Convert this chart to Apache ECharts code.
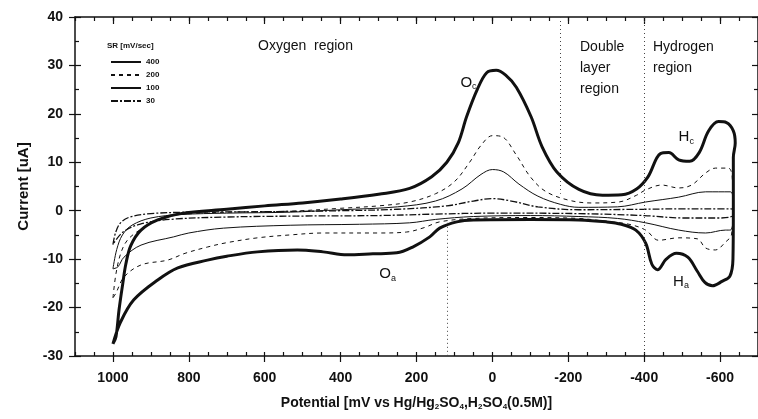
<!DOCTYPE html>
<html>
<head>
<meta charset="utf-8">
<script src="https://cdn.jsdelivr.net/npm/echarts@6/dist/echarts.min.js"></script>
<style>
  html, body { margin: 0; padding: 0; background: #fff; }
  #chart { width: 758px; height: 419px; }
</style>
</head>
<body>
<div id="chart"></div>
<script>
// scan rates [mV/sec] and one closed loop per rate: [potential mV, current uA]
const scanRates = ['400', '200', '100', '30'];

const sr400 = [
  [1000, -27.5], [992, -26], [984, -20.5], [974, -15], [966, -11], [953, -7.2], [926, -4],
  [882, -1.9], [822, -0.6], [700, 0.3], [600, 1.0], [500, 1.6], [400, 2.4], [300, 3.4],
  [218, 4.6], [160, 7], [120, 10], [90, 14], [68, 19.4], [40, 25], [15, 28.5], [-10, 29],
  [-35, 28], [-63, 25.5], [-102, 19.4], [-131, 13.2], [-170, 8], [-228, 4.4], [-290, 3.2],
  [-341, 3.3], [-380, 4.5], [-410, 7], [-443, 11.8], [-465, 12], [-491, 10.5], [-520, 10.2],
  [-545, 12], [-570, 16.5], [-596, 18.4], [-617, 18.2], [-635, 16.5], [-640, 14],
  [-635, 11], [-635, 0], [-634, -10], [-626, -13.5], [-605, -14.6], [-580, -15.5],
  [-560, -14.8], [-540, -12.5], [-515, -9.6], [-485, -8.8], [-458, -10], [-435, -12.2],
  [-420, -11], [-404, -6.7], [-378, -4], [-340, -2.8], [-300, -2.3], [-228, -1.9],
  [-100, -1.8], [50, -1.9], [94, -2.3], [139, -3.6], [165, -5.4], [210, -7.5], [252, -8.7],
  [315, -8.9], [383, -9.1], [446, -8.5], [514, -8.1], [619, -8.5], [700, -9.4], [751, -10.2],
  [829, -11.8], [882, -14.3], [945, -18.4], [980, -23], [1000, -27.5]
];

const sr200 = [
  [1000, -18], [992, -13], [979, -8.7], [961, -6], [926, -3.8], [880, -1.8], [822, -0.8],
  [700, -0.3], [533, -0.1], [400, 0.5], [300, 1.0], [218, 1.8], [150, 3.5], [100, 6],
  [60, 10], [30, 13.5], [0, 15.5], [-25, 15.3], [-63, 11.5], [-100, 7], [-140, 4],
  [-200, 2.2], [-260, 1.6], [-333, 1.8], [-380, 3.2], [-404, 4.3], [-446, 5.3], [-491, 4.7],
  [-525, 5.3], [-562, 7.8], [-588, 8.8], [-622, 8.8], [-632, 7], [-634, 0], [-630, -5],
  [-614, -6.5], [-588, -8.1], [-562, -7.7], [-540, -5.8], [-491, -5.6], [-438, -6.1],
  [-404, -4], [-360, -2.8], [-300, -2.2], [-228, -1.6], [-100, -1.4], [50, -1.6],
  [139, -2.3], [180, -3.5], [226, -4.4], [300, -4.6], [446, -4.6], [533, -5], [619, -5.6],
  [700, -6.6], [751, -7.5], [810, -8.8], [856, -10.2], [926, -11.2], [971, -13.7],
  [992, -17], [1000, -18]
];

const sr100 = [
  [1000, -12], [990, -8], [975, -5], [950, -3], [900, -1.5], [822, -0.8], [700, -0.5],
  [533, -0.3], [400, 0.2], [250, 0.8], [150, 2], [80, 4.5], [30, 7.5], [0, 8.5], [-30, 8],
  [-70, 5.5], [-120, 3], [-180, 1.3], [-228, 0.7], [-330, 0.8], [-404, 1.8], [-491, 2.8],
  [-562, 3.9], [-627, 3.9], [-634, 2], [-634, -2], [-627, -4], [-614, -4], [-562, -4.6],
  [-491, -4], [-404, -2.5], [-330, -1.6], [-228, -1.2], [-100, -1.0], [50, -1.2],
  [150, -1.8], [218, -2.5], [350, -2.8], [533, -3], [709, -3.6], [800, -4.6], [840, -5.4],
  [926, -7.1], [971, -9.6], [987, -11.6], [1000, -12]
];

const sr30 = [
  [1000, -7], [993, -4.5], [980, -2.5], [955, -1.3], [900, -0.6], [800, -0.3], [600, -0.2],
  [400, 0], [250, 0.3], [120, 1], [50, 2], [0, 2.5], [-50, 2], [-120, 0.8], [-228, 0.2],
  [-400, 0.3], [-500, 0.4], [-600, 0.4], [-630, 0.4], [-634, 0], [-630, -1.2],
  [-600, -1.5], [-500, -1.5], [-400, -1], [-228, -0.6], [0, -0.5], [150, -0.7],
  [300, -1.0], [500, -1.1], [700, -1.3], [850, -1.8], [930, -2.8], [975, -4.5], [1000, -7]
];

const potentialLabels = [1000, 800, 600, 400, 200, 0, -200, -400, -600];

// dotted region dividers: [potential, from current, to current]
const dividers = [[120, -2.5, -30], [-180, 40, 3.5], [-400, 40, -30]];

// peak names: [letter, subscript, potential, current]
const peakLabels = [['O', 'c', 63, 26.5], ['O', 'a', 276, -13.1], ['H', 'c', -511, 15.2], ['H', 'a', -497, -14.7]];

const chart = echarts.init(document.getElementById('chart'));
const font = 'Liberation Sans, Arial, sans-serif';
const ink = '#111';

const styles = {
  '400': { width: 3, type: 'solid' },
  '200': { width: 1, type: [4, 4] },
  '100': { width: 1, type: 'solid' },
  '30': { width: 1.3, type: [7, 2, 2, 2] }
};
const loops = { '400': sr400, '200': sr200, '100': sr100, '30': sr30 };

const baseX = { type: 'value', inverse: true, min: -700, max: 1100, interval: 50, splitLine: { show: false } };
const baseY = { type: 'value', min: -30, max: 40, interval: 10, splitLine: { show: false } };
const tickLine = { color: ink, width: 1.2 };
const hiddenLine = { show: false, onZero: false };
const shownLine = { show: true, onZero: false, lineStyle: { color: ink, width: 1.5 } };

const series = scanRates.map(sr => ({
  name: sr,
  type: 'line',
  data: loops[sr],
  symbol: 'none',
  smooth: 0.35,
  xAxisIndex: 0,
  yAxisIndex: 0,
  lineStyle: { color: ink, width: styles[sr].width, type: styles[sr].type },
  itemStyle: { color: ink }
}));

series[0].markLine = {
  silent: true,
  symbol: 'none',
  label: { show: false },
  lineStyle: { color: '#444', width: 1, type: [1, 3] },
  data: dividers.map(d => [{ coord: [d[0], d[1]] }, { coord: [d[0], d[2]] }])
};
series[0].markPoint = {
  silent: true,
  symbol: 'circle',
  symbolSize: 0,
  data: peakLabels.map(p => ({
    coord: [p[2], p[3]],
    label: {
      show: true,
      position: 'inside',
      formatter: '{m|' + p[0] + '}{s|' + p[1] + '}',
      rich: {
        m: { fontSize: 15, fontFamily: font, color: ink },
        s: { fontSize: 9, fontFamily: font, color: ink, padding: [8, 0, 0, 0] }
      }
    }
  }))
};

const option = {
  animation: false,
  backgroundColor: '#fff',
  grid: { left: 75, top: 17, width: 684, height: 339 },
  legend: {
    data: scanRates,
    orient: 'vertical',
    left: 105,
    top: 53,
    itemWidth: 30,
    itemHeight: 8,
    itemGap: 5,
    itemStyle: { color: 'rgba(0,0,0,0)', borderWidth: 0, borderColor: 'rgba(0,0,0,0)' },
    textStyle: { fontSize: 8, fontWeight: 'bold', fontFamily: font, color: ink }
  },
  xAxis: [
    Object.assign({}, baseX, {
      position: 'bottom',
      axisLine: shownLine,
      axisTick: { customValues: potentialLabels, length: 6, lineStyle: tickLine },
      axisLabel: {
        customValues: potentialLabels, margin: 15, fontSize: 14, fontWeight: 'bold', fontFamily: font, color: ink,
        formatter: v => String(v)
      },
      name: '{t|Potential [mV vs Hg/Hg}{s|2}{t|SO}{s|4}{t|,H}{s|2}{t|SO}{s|4}{t|(0.5M)]}',
      nameLocation: 'middle',
      nameGap: 39,
      nameTextStyle: {
        rich: {
          t: { fontSize: 14, fontWeight: 'bold', fontFamily: font, color: ink },
          s: { fontSize: 8, fontWeight: 'bold', fontFamily: font, color: ink, padding: [8, 0, 0, 0] }
        }
      }
    }),
    Object.assign({}, baseX, {
      position: 'bottom',
      axisLine: hiddenLine,
      axisTick: { inside: true, length: 4, lineStyle: tickLine },
      axisLabel: { show: false }
    }),
    Object.assign({}, baseX, {
      position: 'top',
      axisLine: shownLine,
      axisTick: { inside: true, length: 4, lineStyle: tickLine },
      axisLabel: { show: false }
    }),
    Object.assign({}, baseX, {
      position: 'top',
      axisLine: hiddenLine,
      axisTick: { customValues: potentialLabels, inside: true, length: 7, lineStyle: tickLine },
      axisLabel: { show: false }
    })
  ],
  yAxis: [
    Object.assign({}, baseY, {
      position: 'left',
      axisLine: shownLine,
      axisTick: { length: 6, lineStyle: tickLine },
      axisLabel: { margin: 12, fontSize: 14, fontWeight: 'bold', fontFamily: font, color: ink },
      name: 'Current [uA]',
      nameLocation: 'middle',
      nameGap: 44,
      nameTextStyle: { fontSize: 15, fontWeight: 'bold', fontFamily: font, color: ink }
    }),
    Object.assign({}, baseY, {
      position: 'left',
      axisLine: hiddenLine,
      axisTick: { inside: true, length: 6, lineStyle: tickLine },
      minorTick: { show: true, splitNumber: 2, length: 4, lineStyle: tickLine },
      axisLabel: { show: false }
    }),
    Object.assign({}, baseY, {
      position: 'right',
      axisLine: shownLine,
      axisTick: { inside: true, length: 6, lineStyle: tickLine },
      minorTick: { show: true, splitNumber: 2, length: 4, lineStyle: tickLine },
      axisLabel: { show: false }
    })
  ],
  graphic: [
    { type: 'text', left: 107, top: 42, style: { text: 'SR [mV/sec]', font: 'bold 8px ' + font, fill: ink } },
    { type: 'text', left: 258, top: 39, style: { text: 'Oxygen  region', font: '14px ' + font, fill: ink } },
    { type: 'text', left: 580, top: 37, style: { text: 'Double\nlayer\nregion', font: '14px ' + font, fill: ink, lineHeight: 21 } },
    { type: 'text', left: 653, top: 37, style: { text: 'Hydrogen\nregion', font: '14px ' + font, fill: ink, lineHeight: 21 } }
  ],
  series: series
};

chart.setOption(option);
</script>
</body>
</html>
